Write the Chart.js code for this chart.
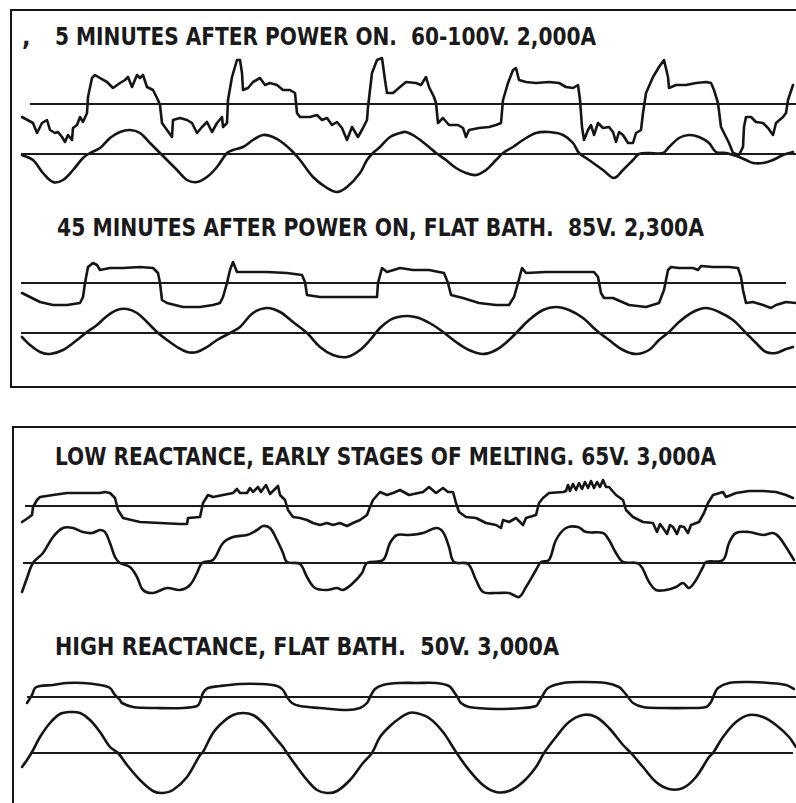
<!DOCTYPE html>
<html>
<head>
<meta charset="utf-8">
<script src="https://cdn.jsdelivr.net/npm/chart.js@4/dist/chart.umd.min.js"></script>
<style>
    html, body { margin: 0; padding: 0; background: #fff; }
    #page { position: relative; width: 796px; height: 803px; overflow: hidden; background: #fff; }
    .box { position: absolute; border-color: #151515; border-style: solid; }
    .title {
        position: absolute; white-space: pre; color: #1a1a1a;
        font-family: "DejaVu Sans Condensed", "Liberation Sans Narrow", "DejaVu Sans", sans-serif;
        font-size: 25px; line-height: 25px; font-weight: bold; transform-origin: 0 0;
    }
    #scope { position: absolute; left: 0; top: 0; }
</style>
</head>
<body>
<div id="page">
    <!-- Frames -->
    <div class="box" style="left:10px; top:9px; width:800px; height:375px; border-width:2px 0 2px 2px;"></div>
    <div class="box" style="left:12px; top:426px; width:800px; height:400px; border-width:2px 0 0 2px;"></div>

    <div class="title" style="left:22px; top:24px;">,</div>
    <div id="titles"></div>
    <canvas id="scope" width="796" height="803"></canvas>
</div>
<script>
// Panel captions
const captions = [
    '5 MINUTES AFTER POWER ON.  60-100V. 2,000A',
    '45 MINUTES AFTER POWER ON, FLAT BATH.  85V. 2,300A',
    'LOW REACTANCE, EARLY STAGES OF MELTING. 65V. 3,000A',
    'HIGH REACTANCE, FLAT BATH.  50V. 3,000A'
];

// Traces: [time, deflection]
const voltage5min = [
    [22,-13],[33,-19],[37,-29],[42,-19],[47,-16],[50,-26],[55,-29],[58,-28],[62,-33],[65,-38],
    [68,-31],[72,-36],[73,-24],[77,-21],[80,-13],[83,-18],[87,-9],[88,7],[92,26],[95,29],
    [100,26],[107,22],[113,16],[120,21],[125,24],[128,27],[132,17],[137,29],[140,26],[143,29],
    [147,17],[153,14],[158,4],[160,-1],[162,-19],[167,-26],[172,-33],[173,-16],[180,-14],[187,-16],
    [192,-19],[197,-29],[202,-23],[207,-18],[212,-28],[217,-19],[222,-13],[223,-23],[227,-19],[228,4],
    [232,27],[237,44],[240,44],[242,31],[243,14],[248,16],[253,22],[260,26],[265,19],[270,21],
    [277,19],[283,14],[290,14],[295,11],[297,-9],[300,-13],[310,-13],[317,-11],[322,-16],[327,-14],
    [332,-21],[337,-18],[342,-24],[347,-36],[352,-23],[358,-33],[363,-24],[367,-16],[368,-3],[372,31],
    [377,44],[382,46],[385,24],[387,11],[393,11],[400,17],[406,22],[416,21],[421,19],[426,27],
    [429,17],[434,7],[436,1],[438,-19],[443,-14],[449,-21],[458,-21],[463,-24],[466,-33],[469,-26],
    [479,-24],[489,-23],[496,-21],[501,-19],[503,4],[508,21],[513,34],[516,36],[519,24],[526,22],
    [536,21],[549,22],[559,21],[566,17],[573,16],[578,19],[580,4],[582,-23],[584,-36],[588,-26],
    [591,-21],[594,-31],[598,-19],[603,-24],[609,-23],[613,-28],[616,-38],[619,-28],[623,-31],[628,-39],
    [633,-39],[636,-29],[641,-26],[643,-9],[646,11],[653,27],[659,37],[664,44],[668,27],[669,16],
    [676,19],[686,19],[696,21],[706,22],[711,21],[714,14],[718,1],[721,-23],[726,-33],[729,-39],
    [733,-49],[739,-51],[743,-43],[744,-23],[746,-13],[751,-13],[756,-18],[763,-19],[768,-24],[773,-31],
    [776,-19],[783,-13],[786,-9],[788,4],[793,19]
];
const current5min = [
    [22,-1],[33,-6],[43,-19],[53,-28],[63,-26],[73,-16],[83,-4],[90,1],[100,6],[110,16],
    [120,22],[130,24],[140,21],[150,11],[160,1],[167,-6],[177,-16],[187,-26],[197,-28],[207,-23],
    [217,-13],[227,1],[233,4],[243,7],[253,14],[263,19],[273,17],[283,11],[293,2],[300,-6],
    [313,-23],[327,-34],[337,-38],[347,-33],[360,-19],[367,-6],[373,1],[380,7],[390,17],[400,21],
    [406,22],[416,17],[429,7],[436,1],[446,-6],[456,-14],[466,-19],[476,-21],[486,-16],[496,-6],
    [503,1],[513,7],[523,14],[536,21],[549,22],[563,19],[573,11],[579,1],[589,-6],[603,-16],
    [614,-24],[623,-16],[633,-6],[639,0],[649,1],[663,1],[669,7],[679,16],[689,19],[699,17],
    [709,11],[716,2],[726,1],[733,-1],[739,-3],[746,-6],[753,-9],[763,-9],[773,-6],[783,-1],[793,2]
];
const voltage45min = [
    [22,-10],[30,-14],[40,-19],[53,-22],[67,-22],[80,-20],[83,-14],[85,0],[88,16],[93,20],
    [97,18],[100,13],[110,15],[123,15],[140,16],[153,15],[158,10],[160,0],[162,-17],[167,-20],
    [183,-24],[200,-24],[213,-22],[220,-20],[223,-14],[227,0],[230,13],[233,21],[237,11],[247,11],
    [267,11],[287,10],[302,8],[305,1],[307,-12],[320,-14],[340,-14],[360,-14],[377,-14],[378,0],
    [382,15],[387,11],[400,15],[413,13],[429,13],[444,10],[448,0],[451,-12],[463,-15],[479,-20],
    [496,-22],[509,-22],[514,-14],[518,0],[522,15],[526,10],[546,11],[569,11],[594,11],[598,6],
    [601,-10],[604,-15],[613,-15],[629,-22],[646,-24],[659,-20],[664,-7],[668,13],[671,16],[679,15],
    [693,15],[698,13],[701,17],[713,16],[729,16],[738,15],[741,6],[743,-7],[746,-20],[753,-19],
    [763,-22],[771,-25],[776,-22],[786,-19],[796,-20]
];
const current45min = [
    [22,-4],[30,-12],[40,-19],[50,-21],[63,-17],[77,-7],[87,1],[97,8],[107,17],[117,23],
    [127,24],[137,20],[147,11],[157,1],[167,-7],[177,-14],[187,-19],[197,-19],[207,-14],[217,-7],
    [230,0],[240,6],[253,20],[267,25],[280,21],[293,11],[307,0],[320,-14],[333,-22],[347,-24],
    [360,-17],[370,-7],[380,5],[390,13],[398,16],[408,17],[419,15],[433,8],[443,1],[456,-9],
    [469,-17],[483,-21],[496,-17],[509,-7],[519,3],[529,13],[543,23],[556,26],[569,23],[583,15],
    [596,3],[609,-7],[623,-17],[636,-21],[649,-17],[659,-7],[669,1],[679,11],[693,21],[706,25],
    [719,21],[733,13],[746,0],[756,-10],[766,-19],[776,-20],[786,-16],[793,-14]
];
const voltageLowX = [
    [22,-16],[28,-12],[32,-9],[33,-1],[37,6],[40,9],[53,11],[67,13],[83,13],[100,13],
    [105,14],[110,13],[115,8],[118,-4],[123,-12],[140,-16],[160,-17],[180,-18],[187,-18],[188,-12],
    [200,-11],[203,3],[208,11],[213,9],[223,11],[233,13],[237,17],[240,13],[247,13],[250,18],
    [253,14],[258,19],[261,14],[263,17],[266,21],[270,12],[275,17],[278,20],[280,11],[285,6],
    [288,-4],[293,-11],[300,-12],[307,-14],[313,-17],[320,-19],[327,-17],[333,-19],[340,-17],[347,-20],
    [353,-17],[360,-14],[367,-9],[370,-1],[373,6],[380,14],[387,11],[393,13],[400,16],[409,11],
    [423,14],[429,19],[436,13],[443,18],[448,14],[453,14],[456,3],[459,-6],[466,-11],[476,-12],
    [486,-17],[496,-19],[501,-22],[503,-14],[509,-16],[516,-12],[523,-19],[526,-12],[536,-9],[539,3],
    [543,8],[549,13],[563,14],[566,15],[568,21],[570,15],[573,22],[576,16],[579,23],[582,17],
    [585,24],[588,18],[591,25],[594,18],[597,24],[600,19],[603,26],[606,19],[609,19],[616,11],
    [623,6],[626,-4],[633,-11],[643,-16],[653,-17],[657,-26],[660,-18],[663,-22],[667,-28],[670,-19],
    [673,-21],[677,-28],[680,-20],[684,-21],[688,-27],[691,-19],[699,-16],[704,-7],[708,3],[713,11],
    [723,14],[726,9],[736,13],[749,15],[763,15],[776,14],[786,11],[793,8]
];
const currentLowX = [
    [22,-29],[27,-15],[33,0],[43,10],[53,26],[63,35],[73,35],[83,31],[92,30],[100,33],
    [105,31],[110,20],[115,6],[120,0],[130,-4],[137,-14],[143,-27],[153,-30],[167,-25],[180,-27],
    [190,-22],[197,-10],[202,0],[213,3],[223,20],[233,26],[247,28],[257,33],[263,37],[270,35],
    [277,23],[283,10],[287,1],[300,-1],[307,-14],[315,-25],[327,-27],[337,-25],[343,-27],[353,-20],
    [362,-10],[367,0],[383,3],[390,20],[397,28],[409,28],[423,30],[436,35],[443,31],[449,16],
    [454,1],[468,-1],[476,-17],[483,-29],[496,-30],[509,-30],[519,-34],[526,-24],[536,-7],[541,1],
    [549,3],[556,23],[566,35],[578,36],[586,31],[603,30],[609,23],[616,10],[623,1],[639,-1],
    [649,-19],[656,-27],[666,-27],[676,-24],[683,-20],[689,-25],[696,-17],[703,-4],[706,1],[723,3],
    [729,20],[736,30],[749,31],[763,28],[773,30],[779,26],[786,16],[794,3]
];
const voltageHighX = [
    [27,-6],[32,2],[35,9],[40,11],[53,12],[67,14],[83,14],[100,12],[110,9],[115,2],
    [120,-3],[122,-6],[133,-10],[157,-11],[183,-11],[197,-9],[200,-5],[203,4],[208,9],[220,11],
    [240,13],[260,13],[277,11],[283,7],[287,0],[292,-6],[300,-9],[320,-11],[347,-13],[360,-11],
    [367,-6],[370,0],[375,8],[383,12],[400,14],[416,14],[436,14],[449,11],[454,5],[458,-1],
    [461,-6],[469,-10],[496,-12],[523,-11],[536,-9],[539,-5],[543,2],[548,9],[563,14],[583,15],
    [606,14],[619,10],[624,5],[628,0],[633,-6],[643,-10],[663,-11],[689,-11],[706,-10],[711,-5],
    [714,2],[718,9],[729,14],[749,15],[769,14],[786,12],[794,8]
];
const currentHighX = [
    [22,-14],[27,-7],[32,1],[40,16],[50,30],[60,39],[70,41],[80,40],[90,33],[100,21],
    [110,6],[118,0],[127,-12],[140,-27],[153,-38],[163,-40],[173,-37],[187,-24],[200,-2],[203,1],
    [213,20],[223,31],[233,38],[243,40],[253,38],[263,30],[273,18],[283,6],[287,0],[297,-14],
    [307,-27],[317,-37],[327,-40],[337,-38],[350,-27],[363,-10],[372,0],[380,16],[390,27],[400,35],
    [409,40],[416,40],[429,35],[443,21],[456,1],[469,-17],[483,-32],[496,-39],[509,-38],[523,-29],
    [536,-14],[544,0],[556,16],[569,31],[583,38],[596,36],[609,25],[623,8],[631,0],[643,-14],
    [656,-29],[669,-36],[683,-35],[696,-24],[709,-4],[713,0],[723,16],[736,31],[749,38],[763,36],
    [776,28],[789,16],[796,6]
];

// Zero lines: start and end time of each trace's reference line
const zeroLineStart = [30, 21, 21, 21, 25, 23, 27, 30];
const zeroLineEnd = [796, 796, 786, 796, 796, 796, 796, 793];

// Layout: pixel row of each trace's zero line, and caption placement
const zeroRowPx = [104, 154, 283, 333, 506, 563, 697, 753];
const captionLeft = [55, 57, 55, 55];
const captionTop = [24, 215, 444, 634];
const captionWidth = [541, 647, 661, 504];

const traces = [voltage5min, current5min, voltage45min, current45min,
                voltageLowX, currentLowX, voltageHighX, currentHighX];
const smoothTrace = [false, true, false, true, false, true, true, true];

function renderCaptions() {
    const holder = document.getElementById('titles');
    captions.forEach((text, i) => {
        const el = document.createElement('div');
        el.className = 'title';
        el.textContent = text;
        el.style.left = captionLeft[i] + 'px';
        el.style.top = captionTop[i] + 'px';
        holder.appendChild(el);
        const w = el.getBoundingClientRect().width;
        el.style.transform = `scaleX(${captionWidth[i] / w})`;
    });
}

function buildScope() {
    const datasets = [];
    const scales = {
        x: { type: 'linear', min: 0, max: 796, display: false }
    };
    traces.forEach((pts, i) => {
        const axisId = 'y' + i;
        scales[axisId] = {
            type: 'linear',
            min: zeroRowPx[i] - 803,
            max: zeroRowPx[i],
            display: false
        };
        // Zero line
        datasets.push({
            data: [{ x: zeroLineStart[i], y: 0 }, { x: zeroLineEnd[i], y: 0 }],
            yAxisID: axisId,
            borderColor: '#1a1a1a',
            borderWidth: 2.2,
            pointRadius: 0,
            showLine: true
        });
        // Trace
        datasets.push({
            data: pts.map(p => ({ x: p[0], y: p[1] })),
            yAxisID: axisId,
            borderColor: '#151515',
            borderWidth: 2.6,
            pointRadius: 0,
            showLine: true,
            tension: smoothTrace[i] ? 0.35 : 0,
            borderJoinStyle: 'round',
            borderCapStyle: 'round'
        });
    });

    new Chart(document.getElementById('scope').getContext('2d'), {
        type: 'scatter',
        data: { datasets: datasets },
        options: {
            responsive: false,
            animation: false,
            devicePixelRatio: 1,
            layout: { padding: 0 },
            plugins: {
                legend: { display: false },
                tooltip: { enabled: false }
            },
            scales: scales
        }
    });
}

renderCaptions();
buildScope();
</script>
</body>
</html>
